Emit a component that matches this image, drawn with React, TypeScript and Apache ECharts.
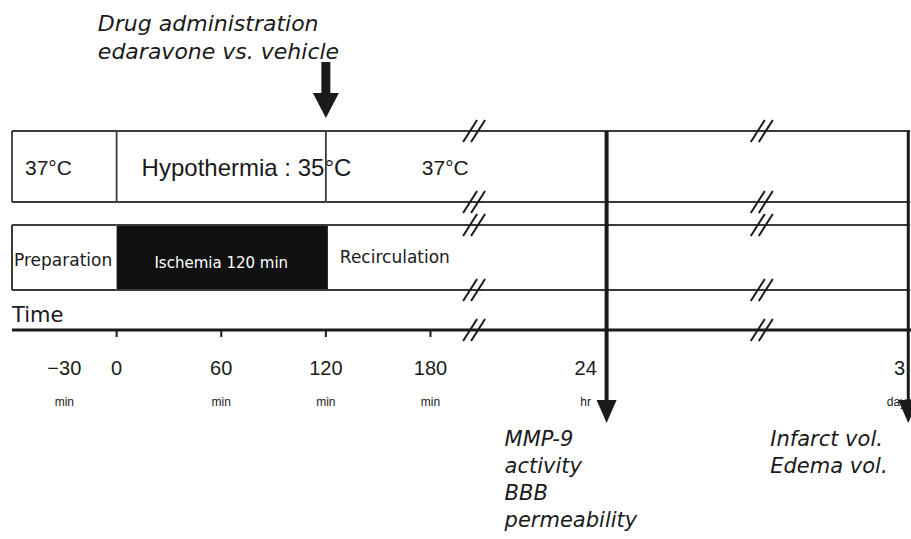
import React, { useEffect, useRef } from "react";
import * as echarts from "echarts";

// ---- data (timeline in minutes; the 24 hr and 3 day points sit past a break) ----
const X_MIN = -60;
const X_MAX = 455;
const temperaturePhases = ["37°C", "Hypothermia : 35°C", "37°C"];
const temperatureBounds = [-60, 0, 120, 455];
const procedurePhases = ["Preparation", "Ischemia 120 min", "Recirculation"];
const procedureBounds = [-60, 0, 120, 455];
const procedureIschemic = [false, true, false];
const axisTicks = [0, 60, 120, 180];
const tickLabelValues = [-30, 0, 60, 120, 180, 269, 449];
const tickLabels = ["−30", "0", "60", "120", "180", "24", "3"];
const tickUnits = ["min", "", "min", "min", "min", "hr", "days"];
const breakValues = [205, 370];
const drugTime = 120;
const drugLabel = ["Drug administration", "edaravone vs. vehicle"];
const endpointTimes = [281, 454];
const endpointLabels = [
  ["MMP-9", "activity", "BBB", "permeability"],
  ["Infarct vol.", "Edema vol."],
];
const timeTitle = "Time";

// ---- layout / style constants ----
const ROW1 = [131, 202];
const ROW2 = [225, 290];
const AXIS_Y = 330;
const BREAK_ROWS = [131, 202, 225, 290, 330];
const tempLabelOffsets = [13, 25, 96];
const procLabelOffsets = [2, 0, 14];
const endpointTextOffsets = [-102, -138];
const LINE = "#3a3a3a";
const INK = "#1a1a1a";
const HAND = "'DejaVu Sans', 'Noto Sans', sans-serif";
const SANS = "'Liberation Sans', Arial, sans-serif";

export default function App() {
  const ref = useRef<HTMLDivElement>(null);

  useEffect(() => {
    if (!ref.current) return;
    document.body.style.margin = "0";
    const chart = echarts.init(ref.current, undefined, { renderer: "svg" });

    const tempData = temperaturePhases.map((_, i) => [temperatureBounds[i], temperatureBounds[i + 1]]);
    const procData = procedurePhases.map((_, i) => [procedureBounds[i], procedureBounds[i + 1]]);

    const renderTemp = (params: any, api: any) => {
      const i = params.dataIndex;
      const a = api.coord([api.value(0), ROW1[0]]);
      const b = api.coord([api.value(1), ROW1[1]]);
      const st = { stroke: LINE, lineWidth: 1.8 };
      return {
        type: "group",
        children: [
          { type: "line", shape: { x1: a[0], y1: a[1], x2: b[0], y2: a[1] }, style: st },
          { type: "line", shape: { x1: a[0], y1: b[1], x2: b[0], y2: b[1] }, style: st },
          { type: "line", shape: { x1: a[0], y1: a[1], x2: a[0], y2: b[1] }, style: st },
          {
            type: "text",
            x: a[0] + tempLabelOffsets[i],
            y: (a[1] + b[1]) / 2 + 1,
            style: {
              text: temperaturePhases[i],
              fill: INK,
              fontSize: i === 1 ? 24 : 21,
              fontFamily: SANS,
              align: "left",
              verticalAlign: "middle",
            },
          },
        ],
      };
    };

    const renderProc = (params: any, api: any) => {
      const i = params.dataIndex;
      const a = api.coord([api.value(0), ROW2[0]]);
      const b = api.coord([api.value(1), ROW2[1]]);
      const st = { stroke: LINE, lineWidth: 2 };
      const dark = procedureIschemic[i];
      const children: any[] = [];
      if (dark) {
        children.push({
          type: "rect",
          shape: { x: a[0], y: a[1], width: b[0] - a[0] + 2, height: b[1] - a[1] },
          style: { fill: "#111" },
        });
      }
      children.push(
        { type: "line", shape: { x1: a[0], y1: a[1], x2: b[0], y2: a[1] }, style: st },
        { type: "line", shape: { x1: a[0], y1: b[1], x2: b[0], y2: b[1] }, style: st }
      );
      if (i === 0) {
        children.push({ type: "line", shape: { x1: a[0], y1: a[1], x2: a[0], y2: b[1] }, style: st });
      }
      children.push({
        type: "text",
        x: dark ? (a[0] + b[0]) / 2 : a[0] + procLabelOffsets[i],
        y: dark ? (a[1] + b[1]) / 2 + 5 : (a[1] + b[1]) / 2 + (i === 0 ? 2 : -1),
        style: {
          text: procedurePhases[i],
          fill: dark ? "#fff" : INK,
          fontSize: dark ? 15 : 17,
          fontFamily: HAND,
          align: dark ? "center" : "left",
          verticalAlign: "middle",
        },
      });
      return { type: "group", children };
    };

    const renderAxis = (params: any, api: any) => {
      const a = api.coord([X_MIN, AXIS_Y]);
      const b = api.coord([X_MAX, AXIS_Y]);
      const children: any[] = [
        { type: "line", shape: { x1: a[0], y1: a[1], x2: b[0] + 2, y2: a[1] }, style: { stroke: INK, lineWidth: 3 } },
        {
          type: "text",
          x: a[0],
          y: a[1] - 15,
          style: { text: timeTitle, fill: INK, fontSize: 21, fontFamily: HAND, align: "left", verticalAlign: "middle" },
        },
      ];
      axisTicks.forEach((t) => {
        const c = api.coord([t, AXIS_Y]);
        children.push({
          type: "line",
          shape: { x1: c[0], y1: c[1], x2: c[0], y2: c[1] + 7 },
          style: { stroke: INK, lineWidth: 2 },
        });
      });
      tickLabelValues.forEach((t, k) => {
        const c = api.coord([t, AXIS_Y]);
        children.push({
          type: "text",
          x: c[0],
          y: c[1] + 38,
          style: { text: tickLabels[k], fill: INK, fontSize: 20, fontFamily: SANS, align: "center", verticalAlign: "middle" },
        });
        if (tickUnits[k]) {
          children.push({
            type: "text",
            x: c[0],
            y: c[1] + 72,
            style: { text: tickUnits[k], fill: INK, fontSize: 12, fontFamily: SANS, align: "center", verticalAlign: "middle" },
          });
        }
      });
      return { type: "group", children };
    };

    const breakData: number[][] = [];
    breakValues.forEach((bv) => BREAK_ROWS.forEach((y) => breakData.push([bv, y])));
    const renderBreak = (params: any, api: any) => {
      const c = api.coord([api.value(0), api.value(1)]);
      return {
        type: "group",
        children: [-4, 4].map((off) => ({
          type: "line",
          shape: { x1: c[0] + off - 7, y1: c[1] + 11, x2: c[0] + off + 7, y2: c[1] - 11 },
          style: { stroke: INK, lineWidth: 2 },
        })),
      };
    };

    const renderDrug = (params: any, api: any) => {
      const c = api.coord([api.value(0), 62]);
      const x = c[0];
      const children: any[] = [
        { type: "rect", shape: { x: x - 4.5, y: 62, width: 9, height: 33 }, style: { fill: INK } },
        { type: "polygon", shape: { points: [[x - 13, 93], [x + 13, 93], [x, 118]] }, style: { fill: INK } },
      ];
      drugLabel.forEach((line, k) => {
        children.push({
          type: "text",
          x: x - 228,
          y: 23 + k * 28,
          style: { text: line, fill: INK, fontSize: 22, fontStyle: "italic", fontFamily: HAND, align: "left", verticalAlign: "middle" },
        });
      });
      return { type: "group", children };
    };

    const renderEndpoint = (params: any, api: any) => {
      const i = params.dataIndex;
      const top = api.coord([api.value(0), ROW1[0]]);
      const x = top[0];
      const w = i === 0 ? 4 : 3;
      const children: any[] = [
        { type: "line", shape: { x1: x, y1: top[1], x2: x, y2: 404 }, style: { stroke: INK, lineWidth: w } },
        { type: "polygon", shape: { points: [[x - 10, 400], [x + 10, 400], [x, 423]] }, style: { fill: INK } },
      ];
      endpointLabels[i].forEach((line, k) => {
        children.push({
          type: "text",
          x: x + endpointTextOffsets[i],
          y: 439 + k * 27,
          style: { text: line, fill: INK, fontSize: 21, fontStyle: "italic", fontFamily: HAND, align: "left", verticalAlign: "middle" },
        });
      });
      return { type: "group", children };
    };

    chart.setOption({
      animation: false,
      backgroundColor: "#fff",
      grid: { left: 12, right: 1, top: 0, bottom: 0 },
      xAxis: { type: "value", min: X_MIN, max: X_MAX, show: false },
      yAxis: { type: "value", min: 0, max: 539, inverse: true, show: false },
      tooltip: { show: false },
      series: [
        { type: "custom", silent: true, renderItem: renderTemp, data: tempData, z: 2 },
        { type: "custom", silent: true, renderItem: renderProc, data: procData, z: 2 },
        { type: "custom", silent: true, renderItem: renderAxis, data: [[X_MIN, AXIS_Y]], z: 3 },
        { type: "custom", silent: true, renderItem: renderBreak, data: breakData, z: 4 },
        { type: "custom", silent: true, renderItem: renderDrug, data: [[drugTime, 62]], z: 4 },
        { type: "custom", silent: true, renderItem: renderEndpoint, data: endpointTimes.map((t) => [t, ROW1[0]]), z: 5 },
      ],
    });

    return () => chart.dispose();
  }, []);

  return <div ref={ref} style={{ width: 911, height: 539, background: "#fff" }} />;
}
